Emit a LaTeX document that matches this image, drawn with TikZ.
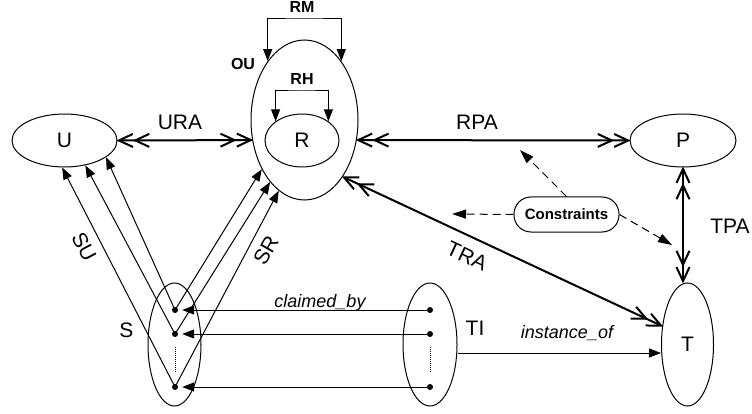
\documentclass[tikz,border=0pt]{standalone}
\usepackage{fontspec}
\setmainfont{Liberation Sans}
\usetikzlibrary{shapes.geometric, arrows.meta}

\begin{document}
\begin{tikzpicture}[x=1pt, y=-1pt,
  every node/.style={font=\fontsize{21}{25}\selectfont, inner sep=0pt},
  set/.style={draw, ellipse, line width=1pt},
  dot/.style={circle, fill, minimum size=6pt, inner sep=0pt},
  tag/.style={font=\fontsize{16}{19}\selectfont\bfseries},
  rel/.style={font=\fontsize{18}{21}\selectfont\itshape, anchor=base},
  assoc/.style={line width=2pt, >={Straight Barb[length=14pt,width=13pt,sep=-1pt]}, <<->>},
  tri/.style={line width=1pt, -{Triangle[length=12pt,width=9pt]}},
  cstr/.style={line width=1pt, dash pattern=on 8pt off 5pt, -{Triangle[length=14pt,width=9pt]}}]
\useasboundingbox (0,0) rectangle (752,414);

% Sets
\node[set, minimum width=105pt, minimum height=53pt] (U) at (64.5,140.5) {U};
\node[set, minimum width=107pt, minimum height=160pt] (ou) at (304.5,120) {};
\node[set, minimum width=74pt, minimum height=53pt] (r) at (302,140.5) {R};
\node[set, minimum width=106pt, minimum height=53pt] (P) at (683,140.5) {P};
\node[set, minimum width=53pt, minimum height=123pt] (S) at (174.5,344.5) {};
\node[set, minimum width=54pt, minimum height=123pt] (TI) at (430,344.5) {};
\node[set, minimum width=52pt, minimum height=123pt] (T) at (687.5,344.5) {T};

% Elements of S and TI
\foreach \y [count=\i] in {310,334,387} {
  \node[dot] (s\i) at (175,\y) {};
  \node[dot] (ti\i) at (430,\y) {};
}
\draw[densely dotted, line width=1pt] ([yshift=-13pt]s2.center) -- ([yshift=14pt]s3.center);
\draw[densely dotted, line width=1pt] ([yshift=-13pt]ti2.center) -- ([yshift=14pt]ti3.center);

% claimed_by
\foreach \i in {1,2,3}
  \draw[tri, shorten >=4pt] (ti\i) -- (s\i);

% SU and SR
\foreach \i/\a in {1/-22, 2/-50, 3/-95}
  \draw[tri] (s\i.center) -- (U.\a);
\foreach \i/\a in {1/-131, 2/-119, 3/-110}
  \draw[tri] (s\i.center) -- (ou.\a);

% Assignments
\draw[assoc] (U.east) -- (ou.201);
\draw[assoc] (ou.-21) -- (P.west);
\draw[assoc] (P.south) -- (P.south |- T.north);
\draw[assoc] (ou.-56) -- (T.144);
\draw[tri] ([yshift=-8.5pt]TI.east) -- ([yshift=-8.5pt]T.west);

% Hierarchies
\coordinate (rmbar) at (304,19);
\coordinate (rhbar) at (302,91);
\draw[line width=1pt, {Triangle[length=12pt,width=9pt]}-{Triangle[length=12pt,width=9pt]}] (ou.122) |- (rmbar) -| (ou.58);
\draw[line width=1pt, {Triangle[length=12pt,width=9pt]}-{Triangle[length=12pt,width=9pt]}] (r.144) |- (rhbar) -| (r.36);

% Constraints
\node[draw, line width=1pt, rounded corners=17pt, minimum width=105pt, minimum height=35pt,
  font=\fontsize{15}{18}\selectfont\bfseries] (con) at (566.5,214.5) {Constraints};
\coordinate (c1) at (452,214);
\coordinate (c2) at (520,150);
\coordinate (c3) at (672,245);
\draw[cstr] (con.west) -- (c1);
\draw[cstr] (con.north) -- (c2);
\draw[cstr] (con.east) -- (c3);

% Labels
\node at (180,122) {URA};
\node at (477,122) {RPA};
\node at (730,226) {TPA};
\node[rotate=-25] at (467,256) {TRA};
\node at (475,328) {TI};
\node at (126.5,330.5) {S};
\node[rotate=-62] at (84,247) {SU};
\node[rotate=60] at (266,250) {SR};
\node[rel] at (320,307) {claimed\_by};
\node[rel] at (567,338) {instance\_of};
\node[tag] at (243,64) {OU};
\node[tag] at (302,7) {RM};
\node[tag] at (302,79) {RH};
\end{tikzpicture}
\end{document}
